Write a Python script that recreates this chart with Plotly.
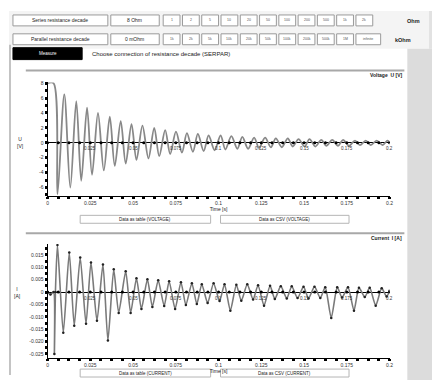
import plotly.graph_objects as go

# ---------------- data ----------------
voltage_t = [0, 0.0035, 0.0058, 0.0098, 0.0133, 0.0168, 0.0197, 0.0231, 0.0260, 0.0295,
             0.0329, 0.0364, 0.0393, 0.0428, 0.0457, 0.0491, 0.0520, 0.0555, 0.0590, 0.0624,
             0.0653, 0.0688, 0.0717, 0.0751, 0.0786, 0.0815, 0.0850, 0.0879, 0.0913, 0.0942,
             0.0977, 0.1012, 0.1040, 0.1075, 0.1110, 0.1139, 0.1173, 0.1208, 0.1237, 0.1272,
             0.1306, 0.1335, 0.1370, 0.1405, 0.1434, 0.1468, 0.1503, 0.1532, 0.1566, 0.1601,
             0.1630, 0.1665, 0.1699, 0.1728, 0.1763, 0.1798, 0.1827, 0.1861, 0.1890, 0.1925,
             0.1960, 0.1988, 0.2]
voltage_u = [8.0, 8.0, -6.9, 6.5, -6.0, 5.6, -5.1, 4.7, -4.3, 4.0,
             -3.7, 3.5, -3.1, 2.9, -2.8, 2.5, -2.3, 2.3, -2.1, 2.0,
             -1.8, 1.7, -1.5, 1.5, -1.3, 1.3, -1.2, 1.2, -1.1, 1.0,
             -1.0, 1.0, -0.9, 0.9, -0.8, 0.8, -0.8, 0.7, -0.7, 0.7,
             -0.6, 0.6, -0.6, 0.6, -0.5, 0.5, -0.5, 0.5, -0.5, 0.4,
             -0.4, 0.4, -0.4, 0.4, -0.4, 0.3, -0.3, 0.3, -0.3, 0.3,
             -0.3, 0.3, 0.1]

current_t = [0, 0.0017, 0.0035, 0.0040, 0.0046, 0.0058, 0.0092, 0.0127, 0.0156, 0.0191,
             0.0225, 0.0254, 0.0289, 0.0324, 0.0353, 0.0387, 0.0416, 0.0457, 0.0486, 0.0520,
             0.0549, 0.0584, 0.0613, 0.0647, 0.0682, 0.0711, 0.0746, 0.0780, 0.0809, 0.0844,
             0.0873, 0.0902, 0.0936, 0.0971, 0.1006, 0.1035, 0.1069, 0.1104, 0.1133, 0.1168,
             0.1202, 0.1231, 0.1266, 0.1301, 0.1329, 0.1364, 0.1399, 0.1428, 0.1462, 0.1497,
             0.1526, 0.1561, 0.1595, 0.1624, 0.1659, 0.1694, 0.1722, 0.1757, 0.1792, 0.1821,
             0.1855, 0.1884, 0.1919, 0.1954, 0.1983, 0.2]
current_i = [0, -0.001, 0, -0.025, 0, 0.019, -0.0164, 0.016, -0.0136, 0.014,
             -0.0128, 0.012, -0.0116, 0.0112, -0.0196, 0.0092, -0.0084, 0.0084, -0.0084, 0.0056,
             -0.0068, 0.0052, -0.006, 0.0048, -0.0056, 0.0044, -0.0068, 0.004, -0.0052, 0.0036,
             -0.0048, 0.0032, -0.0044, 0.0036, -0.0036, 0.0032, -0.0075, 0.003, -0.0035, 0.0032,
             -0.003, 0.0028, -0.0055, 0.0026, -0.0028, 0.0024, -0.0026, 0.0024, -0.0024, 0.0022,
             -0.0026, 0.0022, -0.0024, 0.002, -0.0105, 0.002, -0.0022, 0.002, -0.0075, 0.0018,
             -0.002, 0.0018, -0.0055, 0.0016, -0.0018, 0.0005]

time_ticks = [0, 0.025, 0.05, 0.075, 0.1, 0.125, 0.15, 0.175, 0.2]
time_labels = ["0", "0.025", "0.05", "0.075", "0.1", "0.125", "0.15", "0.175", "0.2"]
u_ticks = [-6, -4, -2, 0, 2, 4, 6, 8]
u_labels = ["-6", "-4", "-2", "0", "2", "4", "6", "8"]
i_ticks = [-0.025, -0.02, -0.015, -0.01, -0.005, 0, 0.005, 0.01, 0.015]
i_labels = ["-0.025", "-0.020", "-0.015", "-0.010", "-0.005", "0", "0.005", "0.010", "0.015"]

series_buttons = ["1", "2", "5", "10", "20", "50", "100", "200", "500", "1k", "2k"]
parallel_buttons = ["1k", "2k", "5k", "10k", "20k", "50k", "100k", "200k", "500k", "1M", "infinite"]

# ---------------- layout helpers ----------------
# the page body has an 8px margin, so the figure is placed at (8, 8)
OX, OY = 8, 8
W, H = 432, 372
FONT = "Liberation Sans, Arial, sans-serif"


def px(x):
    return (x - OX) / W


def py(y):
    return 1 - (y - OY) / H


minor_t = [time_ticks[0] + k * 0.00625 for k in range(33)]

fig = go.Figure()

fig.add_trace(go.Scatter(x=voltage_t, y=voltage_u, mode="lines",
                         line=dict(color="#888888", width=1.8, shape="spline", smoothing=0.9),
                         xaxis="x", yaxis="y", showlegend=False))
fig.add_trace(go.Scatter(x=minor_t, y=[0] * len(minor_t), mode="markers",
                         marker=dict(color="black", size=3), xaxis="x", yaxis="y", showlegend=False))
fig.add_trace(go.Scatter(x=current_t, y=current_i, mode="lines+markers",
                         line=dict(color="#7a7a7a", width=1.6, shape="spline", smoothing=0.6),
                         marker=dict(color="#222", size=2.5),
                         xaxis="x2", yaxis="y2", showlegend=False))
fig.add_trace(go.Scatter(x=minor_t, y=[0] * len(minor_t), mode="markers",
                         marker=dict(color="black", size=3), xaxis="x2", yaxis="y2", showlegend=False))

axis_common = dict(showgrid=False, showline=True, linecolor="black", linewidth=1,
                   ticks="outside", ticklen=2, tickwidth=2.5, tickcolor="black",
                   tickfont=dict(size=5, family=FONT, color="#333"))

fig.update_layout(
    width=W, height=H, margin=dict(l=0, r=0, t=0, b=0),
    paper_bgcolor="white", plot_bgcolor="white",
    font=dict(family=FONT, size=6, color="#222"),
    xaxis=dict(domain=[px(47), px(393)], range=[0, 0.2], anchor="y",
               tickvals=time_ticks, ticktext=time_labels,
               minor=dict(tickvals=minor_t, ticks="outside", ticklen=2, tickwidth=2.5, tickcolor="black"),
               title=dict(text="Time [s]", font=dict(size=5, family=FONT), standoff=1),
               zeroline=False, **axis_common),
    yaxis=dict(domain=[py(194), py(80)], range=[-7.07, 8.1], anchor="x",
               tickvals=u_ticks, ticktext=u_labels,
               minor=dict(dtick=1, ticks="outside", ticklen=2, tickwidth=2.5, tickcolor="black"),
               zeroline=True, zerolinecolor="black", zerolinewidth=1, **axis_common),
    xaxis2=dict(domain=[px(47), px(393)], range=[0, 0.2], anchor="y2",
                tickvals=time_ticks, ticktext=time_labels,
                minor=dict(tickvals=minor_t, ticks="outside", ticklen=2, tickwidth=2.5, tickcolor="black"),
                title=dict(text="Time [s]", font=dict(size=5, family=FONT), standoff=1),
                zeroline=False, **axis_common),
    yaxis2=dict(domain=[py(358), py(243)], range=[-0.0267, 0.0194], anchor="x2",
                tickvals=i_ticks, ticktext=i_labels,
                minor=dict(dtick=0.0025, ticks="outside", ticklen=2, tickwidth=2.5, tickcolor="black"),
                zeroline=True, zerolinecolor="black", zerolinewidth=1, **axis_common),
)

shapes = []
annotations = []


def rect(x0, y0, x1, y1, fill="white", line="#9a9a9a", lw=1):
    shapes.append(dict(type="rect", xref="paper", yref="paper", layer="below",
                       x0=px(x0), x1=px(x1), y0=py(y1), y1=py(y0),
                       fillcolor=fill, line=dict(color=line, width=lw)))


def hline(x0, x1, y, color="#a8a8a8", lw=2):
    shapes.append(dict(type="line", xref="paper", yref="paper",
                       x0=px(x0), x1=px(x1), y0=py(y), y1=py(y), line=dict(color=color, width=lw)))


def text(x, y, s, size=6, color="#222", anchor="center", bold=False):
    if bold:
        s = "<b>" + s + "</b>"
    annotations.append(dict(xref="paper", yref="paper", x=px(x), y=py(y), text=s,
                            showarrow=False, xanchor=anchor, yanchor="middle",
                            font=dict(size=size, color=color, family=FONT)))


# page background pieces
rect(8, 8, 440, 46, fill="#f4f4f4", line="rgba(0,0,0,0)", lw=0)
rect(433, 8, 440, 46, fill="#e2e2e2", line="rgba(0,0,0,0)", lw=0)
rect(411, 46, 440, 380, fill="#dcdcdc", line="rgba(0,0,0,0)", lw=0)
shapes.append(dict(type="line", xref="paper", yref="paper", x0=px(9), x1=px(9), y0=py(375), y1=py(42),
                   line=dict(color="#b0b0b0", width=1.5)))

# row 1
rect(12, 12, 108, 23)
text(60, 17.5, "Series resistance decade", 5)
rect(111, 12, 160, 23)
text(135, 17.5, "8 Ohm", 5)
for k, lab in enumerate(series_buttons):
    x0 = 164 + k * 19.5
    rect(x0, 12, x0 + 17, 23)
    text(x0 + 8.5, 17.5, lab, 3.5, color="#555")
text(409, 18, "Ohm", 5.5, bold=True, anchor="left")

# row 2
rect(12, 31, 108, 42)
text(60, 36.5, "Parallel resistance decade", 5)
rect(111, 31, 160, 42)
text(135, 36.5, "0 mOhm", 5)
for k, lab in enumerate(parallel_buttons):
    x0 = 164 + k * 19.5
    w = 17 if k < 10 else 25
    rect(x0, 31, x0 + w, 42)
    text(x0 + w / 2, 36.5, lab, 3.5, color="#555")
text(397, 37, "kOhm", 5.5, bold=True, anchor="left")

# row 3
rect(12, 45, 82, 57, fill="black", line="black")
text(47, 51, "Measure", 4.5, color="white")
text(90, 51.5, "Choose connection of resistance decade (SERPAR)", 6, anchor="left")

# chart frames / separators
hline(25, 408, 68)
hline(25, 408, 232)
text(408, 73, "Voltage  U [V]", 5, anchor="right", bold=True)
text(408, 237, "Current  I [A]", 5, anchor="right", bold=True)
text(20, 141, "U<br>[V]", 5)
text(17, 292, "I<br>[A]", 5)

# data buttons
for (x0, x1, lab) in [(80, 212, "Data as table (VOLTAGE)"), (222, 352, "Data as CSV (VOLTAGE)")]:
    rect(x0, 214, x1, 222, fill="white", line="#b5b5b5")
    text((x0 + x1) / 2, 218, lab, 4.5)
for (x0, x1, lab) in [(80, 212, "Data as table (CURRENT)"), (222, 352, "Data as CSV (CURRENT)")]:
    rect(x0, 369, x1, 377, fill="white", line="#b5b5b5")
    text((x0 + x1) / 2, 373, lab, 4.5)

# time labels along the zero lines
for xa, ya in [("x", "y"), ("x2", "y2")]:
    for tv, tl in zip(time_ticks[1:], time_labels[1:]):
        annotations.append(dict(xref=xa, yref=ya, x=tv, y=0, text=tl, showarrow=False,
                                yshift=-6, font=dict(size=4.5, family=FONT, color="#333")))

fig.update_layout(shapes=shapes, annotations=annotations)
fig.write_html("out.html")
